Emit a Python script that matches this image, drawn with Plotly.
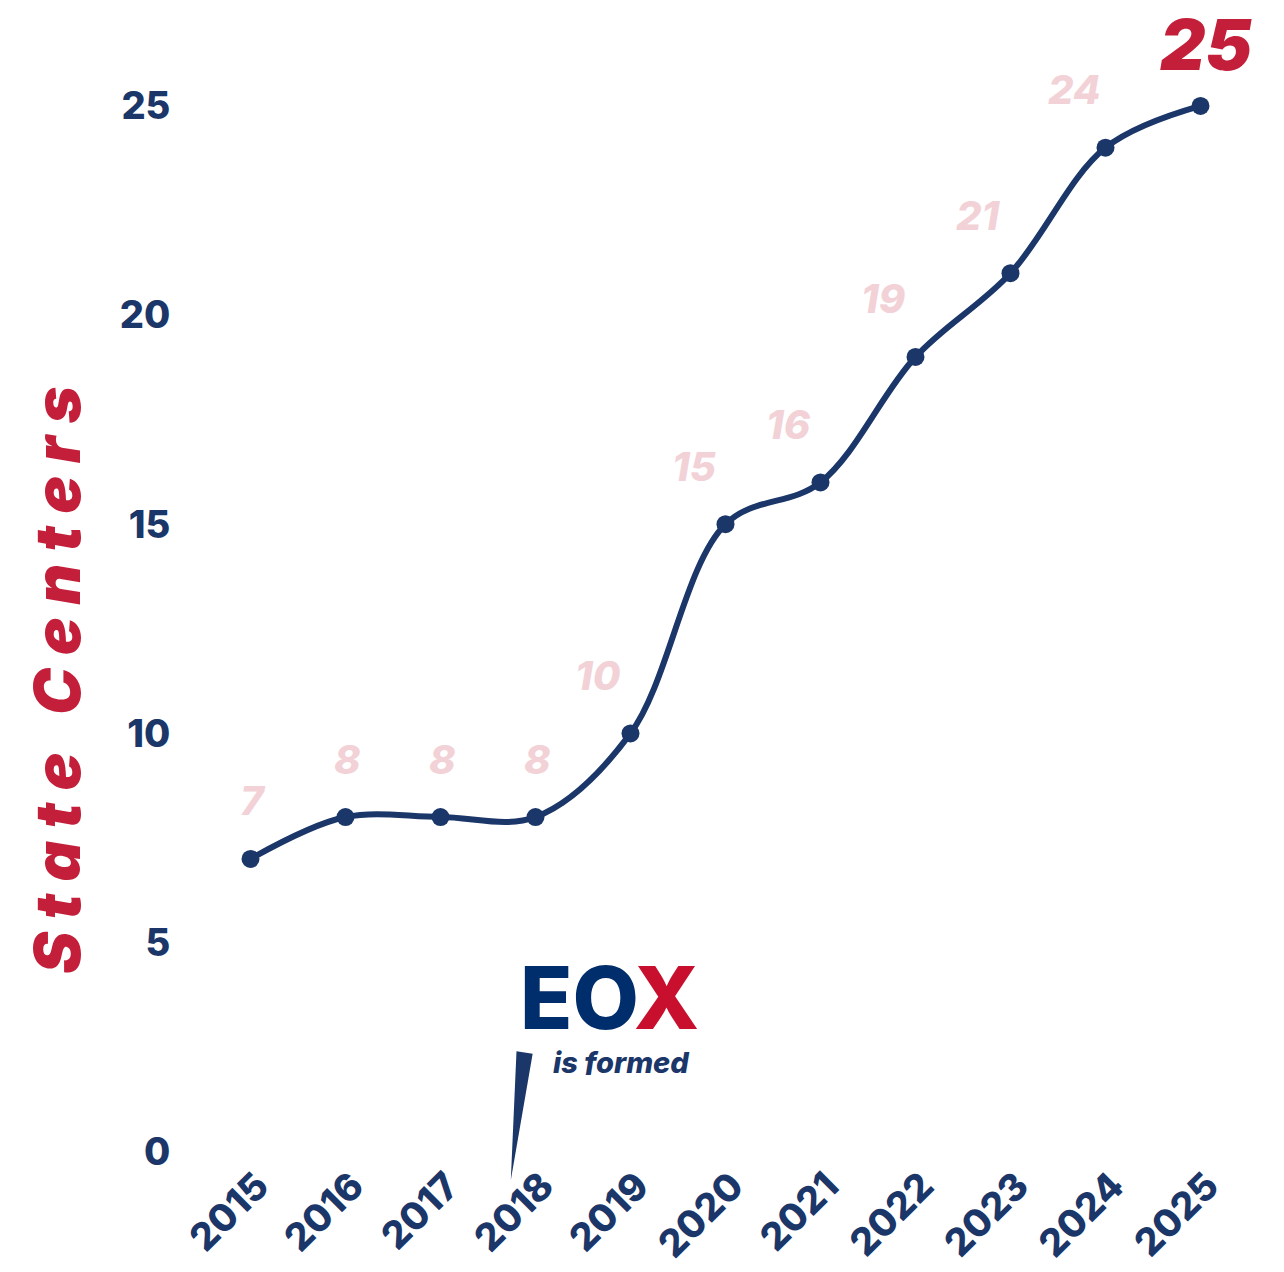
import plotly.graph_objects as go

years = ["2015", "2016", "2017", "2018", "2019", "2020", "2021", "2022", "2023", "2024", "2025"]
centers = [7, 8, 8, 8, 10, 15, 16, 19, 21, 24, 25]
y_ticks = [0, 5, 10, 15, 20, 25]
event_year_index = 2.75  # EOX formed (pointer near 2018)

NAVY = "#1B3668"
PINK = "#F2D2D7"
RED = "#C41F3A"
FONT = "Inter"

fig = go.Figure()
fig.add_trace(go.Scatter(
    x=years, y=centers, mode="lines+markers",
    line=dict(color=NAVY, width=6, shape="spline", smoothing=1),
    marker=dict(color=NAVY, size=18),
    hoverinfo="skip", showlegend=False, cliponaxis=False,
))

# value labels (positions by category index)
for i, v in enumerate(centers):
    last = i == len(centers) - 1
    if last:
        fig.add_annotation(x=i, y=v, text=f"<i>{v}</i>", showarrow=False,
                           yshift=62, xshift=5, xanchor="center", yanchor="middle",
                           height=60,
                           font=dict(family=FONT, size=70, color=RED, weight=900))
    else:
        shift = -32 if len(str(v)) > 1 else 2
        fig.add_annotation(x=i, y=v, text=f"<i>{v}</i>", showarrow=False,
                           yshift=58, xshift=shift, xanchor="center", yanchor="middle",
                           font=dict(family=FONT, size=40, color=PINK, weight=800))

# y-axis title
title = "State Centers"
spaced = "\u00a0".join(title)
fig.add_annotation(xref="paper", yref="paper", x=-0.14, y=0.427,
                   text=f"<i>{spaced}</i>", textangle=-90, showarrow=False,
                   xanchor="center", yanchor="middle",
                   font=dict(family=FONT, size=63, color=RED, weight=900))

# EOX logo annotation
fig.add_annotation(x=event_year_index + 1.03, y=3.68, showarrow=False,
                   text="<span style='color:#002D6B'>EO</span><span style='color:#C8102E'>X</span>",
                   xanchor="center", yanchor="middle", height=70,
                   font=dict(family=FONT, size=86, color="#002D6B", weight=800))
fig.add_annotation(x=event_year_index + 1.15, y=2.15, showarrow=False,
                   text="<i>is formed</i>", xanchor="center", yanchor="middle", height=26,
                   font=dict(family=FONT, size=29, color=NAVY, weight=800))

# wedge pointer
fig.add_shape(type="path", xref="x", yref="y",
              path=f"M {event_year_index + 0.05},2.4 L {event_year_index + 0.22},2.34 L {event_year_index - 0.01},-0.68 Z",
              fillcolor=NAVY, line=dict(width=0))

fig.update_layout(
    width=1284, height=1272,
    margin=dict(l=195, r=44, t=0, b=99),
    paper_bgcolor="white", plot_bgcolor="white",
    xaxis=dict(type="category", range=[-0.5, 10.5], showgrid=False, zeroline=False,
               showline=False, tickangle=-45, automargin=False,
               tickfont=dict(family=FONT, size=38, color=NAVY, weight=800),
               ticks="", ticklabelstandoff=-26, ticklabelshift=7),
    yaxis=dict(range=[-0.7, 27.34], tickvals=y_ticks, showgrid=False, zeroline=False,
               showline=False, automargin=False,
               tickfont=dict(family=FONT, size=38, color=NAVY, weight=800),
               ticks="outside", ticklen=24, tickcolor="white"),
)

fig.write_html("out.html")
